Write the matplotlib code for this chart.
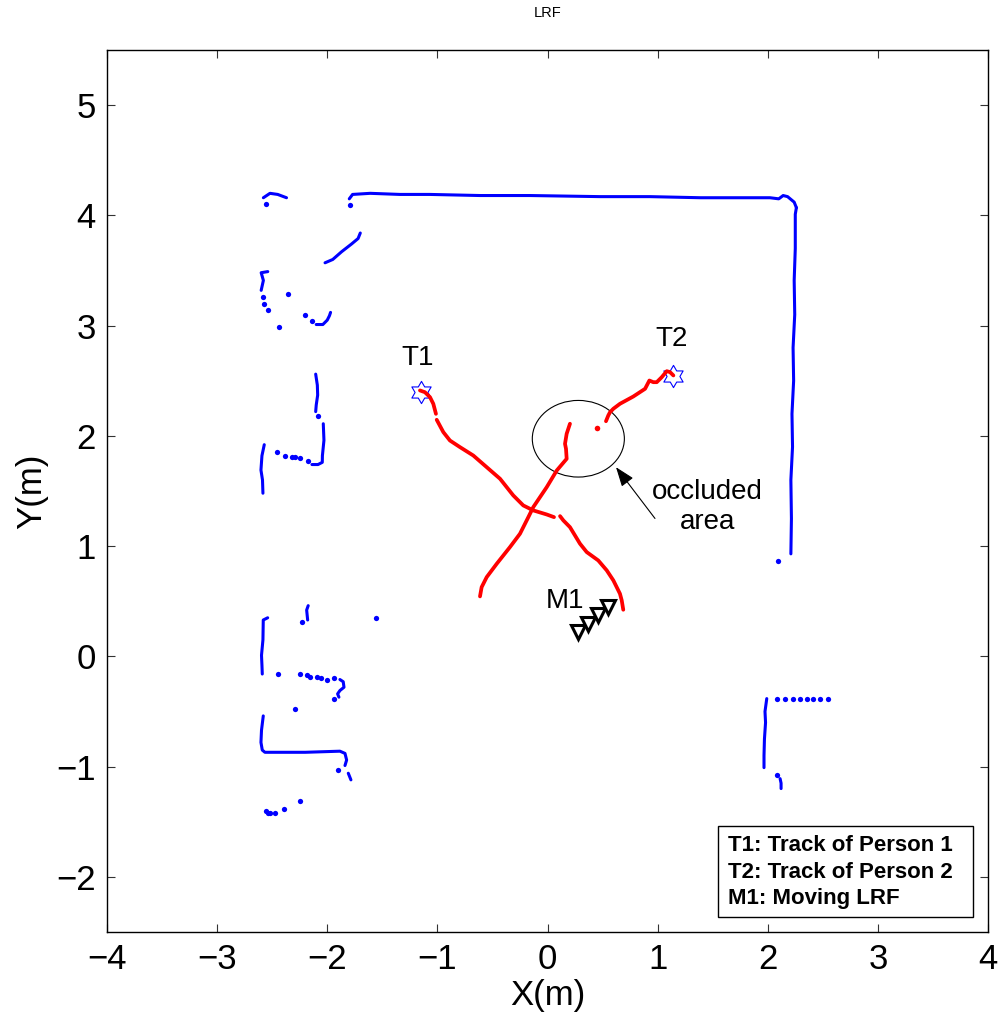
import matplotlib
matplotlib.use("Agg")
import matplotlib.pyplot as plt
from matplotlib.patches import Ellipse, Rectangle
from matplotlib.path import Path
import numpy as np

plt.rcParams['font.family'] = ['Liberation Sans', 'DejaVu Sans']

# ---------------- data (metres) ----------------
# blue laser-scan wall segments (polylines)
wall_top_left = [(-2.58, 4.16), (-2.52, 4.20), (-2.45, 4.19), (-2.37, 4.16)]
wall_top = [(-1.80, 4.15), (-1.77, 4.19), (-1.61, 4.20), (-1.34, 4.19), (-1.07, 4.19),
            (-0.61, 4.18), (-0.16, 4.18), (0.48, 4.17), (0.93, 4.17), (1.39, 4.16),
            (1.79, 4.16), (2.02, 4.16), (2.10, 4.15), (2.14, 4.18), (2.18, 4.17),
            (2.24, 4.12), (2.26, 4.07)]
wall_right = [(2.26, 4.07), (2.25, 4.01), (2.25, 3.70), (2.24, 3.41), (2.245, 3.10),
              (2.23, 2.80), (2.235, 2.50), (2.22, 2.20), (2.225, 1.90), (2.21, 1.60),
              (2.215, 1.25), (2.21, 0.93)]
wall_diag = [(-2.02, 3.57), (-1.95, 3.60), (-1.87, 3.67), (-1.78, 3.74), (-1.72, 3.79), (-1.70, 3.84)]
wall_cap2 = [(-2.54, 3.49), (-2.60, 3.48), (-2.58, 3.41), (-2.60, 3.32)]
wall_hook1 = [(-2.10, 3.01), (-2.04, 3.01), (-2.00, 3.05), (-1.98, 3.09), (-1.97, 3.12)]
wall_vert1 = [(-2.105, 2.56), (-2.09, 2.46), (-2.087, 2.37), (-2.10, 2.28), (-2.105, 2.22)]
wall_bracket2 = [(-2.036, 2.11), (-2.03, 1.96), (-2.044, 1.82), (-2.045, 1.76),
                 (-2.084, 1.74), (-2.139, 1.74)]
wall_left1 = [(-2.572, 1.92), (-2.593, 1.82), (-2.602, 1.69), (-2.588, 1.60), (-2.584, 1.48)]
wall_left2 = [(-2.541, 0.35), (-2.581, 0.33), (-2.584, 0.15), (-2.597, 0.01),
              (-2.593, -0.08), (-2.590, -0.16)]
wall_small2 = [(-2.173, 0.46), (-2.187, 0.42), (-2.178, 0.33)]
wall_hook2 = [(-1.885, -0.21), (-1.855, -0.23), (-1.848, -0.28), (-1.885, -0.31),
              (-1.906, -0.34), (-1.894, -0.37)]
wall_bracket3 = [(-2.581, -0.54), (-2.597, -0.67), (-2.602, -0.78), (-2.590, -0.85),
                 (-2.566, -0.87), (-2.20, -0.87), (-1.885, -0.86), (-1.839, -0.88),
                 (-1.824, -0.94), (-1.839, -0.99)]
wall_short3 = [(-1.809, -1.06), (-1.785, -1.12)]
wall_br_vert = [(1.991, -0.383), (1.975, -0.50), (1.980, -0.60), (1.970, -0.75),
                (1.966, -0.90), (1.966, -1.009)]
wall_br_short = [(2.112, -1.109), (2.121, -1.15), (2.121, -1.199)]

# isolated blue scan points
scan_dots = [(-2.56, 4.10), (-1.79, 4.09), (-2.58, 3.26), (-2.57, 3.20), (-2.54, 3.14),
             (-2.36, 3.29), (-2.44, 2.99), (-2.20, 3.10), (-2.14, 3.04), (-2.087, 2.18),
             (-2.454, 1.85), (-2.384, 1.82), (-2.32, 1.81), (-2.29, 1.81), (-2.248, 1.80),
             (-2.173, 1.77), (-2.227, 0.31), (-1.560, 0.35),
             (-2.445, -0.16), (-2.248, -0.16), (-2.187, -0.17), (-2.157, -0.19),
             (-2.096, -0.19), (-2.057, -0.20), (-2.005, -0.21), (-1.936, -0.20),
             (-1.936, -0.39), (-2.293, -0.48), (-1.906, -1.03),
             (-2.560, -1.40), (-2.540, -1.42), (-2.520, -1.42), (-2.475, -1.42),
             (-2.391, -1.38), (-2.248, -1.31),
             (2.082, -0.383), (2.157, -0.39), (2.233, -0.39), (2.293, -0.385),
             (2.354, -0.39), (2.414, -0.39), (2.475, -0.39), (2.550, -0.39),
             (2.082, -1.073), (2.094, 0.861)]

# red tracks
track1_a = [(-1.158, 2.412), (-1.113, 2.396), (-1.067, 2.351), (-1.037, 2.291), (-1.013, 2.200)]
track1_b = [(-1.006, 2.146), (-0.946, 2.034), (-0.886, 1.958), (-0.795, 1.898), (-0.674, 1.822),
            (-0.552, 1.716), (-0.431, 1.611), (-0.311, 1.460), (-0.220, 1.369),
            (-0.129, 1.324), (-0.007, 1.287), (0.059, 1.263)]
track1_c = [(0.114, 1.272), (0.144, 1.233), (0.204, 1.172), (0.295, 1.022), (0.356, 0.946),
            (0.461, 0.870), (0.538, 0.780), (0.598, 0.689), (0.658, 0.568), (0.674, 0.508),
            (0.688, 0.423)]
track2_a = [(-0.613, 0.544), (-0.598, 0.628), (-0.552, 0.719), (-0.461, 0.840), (-0.341, 0.991),
            (-0.250, 1.112), (-0.174, 1.263), (-0.129, 1.354), (-0.007, 1.535), (0.084, 1.686),
            (0.174, 1.792), (0.168, 1.883), (0.159, 1.928), (0.174, 2.019), (0.204, 2.110)]
track2_dot = [(0.447, 2.073)]
track2_b = [(0.531, 2.133), (0.552, 2.185), (0.568, 2.215), (0.598, 2.246), (0.658, 2.291),
            (0.779, 2.357), (0.886, 2.427), (0.925, 2.502), (0.961, 2.487), (0.992, 2.487),
            (1.037, 2.532), (1.083, 2.587), (1.113, 2.578), (1.143, 2.548)]

# start stars of tracks
star_x = [-1.149, 1.137]
star_y = [2.396, 2.541]
star_labels = ['T1', 'T2']
label_x = [-1.18, 1.13]
label_y = [2.71, 2.88]

# moving LRF positions
lrf_x = [0.277, 0.368, 0.459, 0.549]
lrf_y = [0.218, 0.295, 0.372, 0.449]

# occluded area ellipse
occl_center = (0.280, 1.974)
occl_w = 0.836
occl_h = 0.695

legend_lines = ['T1: Track of Person 1', 'T2: Track of Person 2', 'M1: Moving LRF']

xticks = [-4, -3, -2, -1, 0, 1, 2, 3, 4]
yticks = [-2, -1, 0, 1, 2, 3, 4, 5]

# ---------------- figure ----------------
fig = plt.figure(figsize=(9.98, 10.16), dpi=100)
ax = fig.add_axes([107 / 998, 1 - 932 / 1016, 881 / 998, 882 / 1016])

blue_segments = [wall_top_left, wall_top, wall_right, wall_diag, wall_cap2, wall_hook1,
                 wall_vert1, wall_bracket2, wall_left1, wall_left2, wall_small2, wall_hook2,
                 wall_bracket3, wall_short3, wall_br_vert, wall_br_short]
for seg in blue_segments:
    xs, ys = zip(*seg)
    ax.plot(xs, ys, color='#0000ff', lw=2.2, solid_capstyle='round', solid_joinstyle='round')
dx, dy = zip(*scan_dots)
ax.plot(dx, dy, 'o', color='#0000ff', ms=3.8, mew=0, ls='none')

# hexagram marker
ang_out = np.deg2rad(90 + 60 * np.arange(6))
ang_in = ang_out + np.deg2rad(30)
verts = []
for ao, ai in zip(ang_out, ang_in):
    verts.append((np.cos(ao), np.sin(ao)))
    verts.append((np.cos(ai) / np.sqrt(3), np.sin(ai) / np.sqrt(3)))
verts.append(verts[0])
hexagram = Path(verts, [Path.MOVETO] + [Path.LINETO] * 11 + [Path.CLOSEPOLY])
ax.plot(star_x, star_y, ls='none', marker=hexagram, ms=16, mfc='none', mec='#0000ff', mew=0.8)

for seg in [track1_a, track1_b, track1_c, track2_a, track2_b]:
    xs, ys = zip(*seg)
    ax.plot(xs, ys, color='#ff0000', lw=2.7, solid_capstyle='round', solid_joinstyle='round')
tx, ty = zip(*track2_dot)
ax.plot(tx, ty, 'o', color='#ff0000', ms=4, mew=0)

for lab, lx, ly in zip(star_labels, label_x, label_y):
    ax.text(lx, ly, lab, fontsize=20, ha='center', va='center')

ax.plot(lrf_x, lrf_y, ls='none', marker='v', ms=10, mfc='white', mec='black', mew=2.2)
ax.text(0.159, 0.501, 'M1', fontsize=20, ha='center', va='center')

ax.add_patch(Ellipse(occl_center, occl_w, occl_h, fill=False, ec='black', lw=0.8))
ax.annotate('', xy=(0.622, 1.716), xytext=(0.976, 1.251),
            arrowprops=dict(arrowstyle='-|>,head_length=0.6,head_width=0.22',
                            mutation_scale=20, lw=0.8, color='black', shrinkA=0, shrinkB=0))
ax.text(1.449, 1.351, 'occluded\narea', fontsize=20, ha='center', va='center', linespacing=1.2)

# legend box
ax.add_patch(Rectangle((0.694, 0.0173), 0.983 - 0.694, 0.120 - 0.0173, transform=ax.transAxes,
                       fill=True, fc='white', ec='black', lw=1.0, zorder=5))
for txt, yy in zip(legend_lines, [0.0986, 0.0672, 0.0382]):
    ax.text(0.705, yy, txt, transform=ax.transAxes, fontsize=16, fontweight='bold',
            ha='left', va='center', zorder=6)

ax.set_xlim(-4, 4)
ax.set_ylim(-2.5, 5.5)
ax.set_xticks(xticks)
ax.set_yticks(yticks)
ax.tick_params(direction='in', length=6, width=0.8, color='#333333', labelsize=25,
               top=True, right=True, pad=8)
for sp in ax.spines.values():
    sp.set_linewidth(1.0)
ax.set_xlabel('X(m)', fontsize=25, labelpad=2)
ax.set_ylabel('Y(m)', fontsize=25, labelpad=6)

fig.text(547.5 / 998, 1 - 13 / 1016, 'LRF', fontsize=10.5, ha='center', va='center')

fig.savefig('out.png', dpi=100)
